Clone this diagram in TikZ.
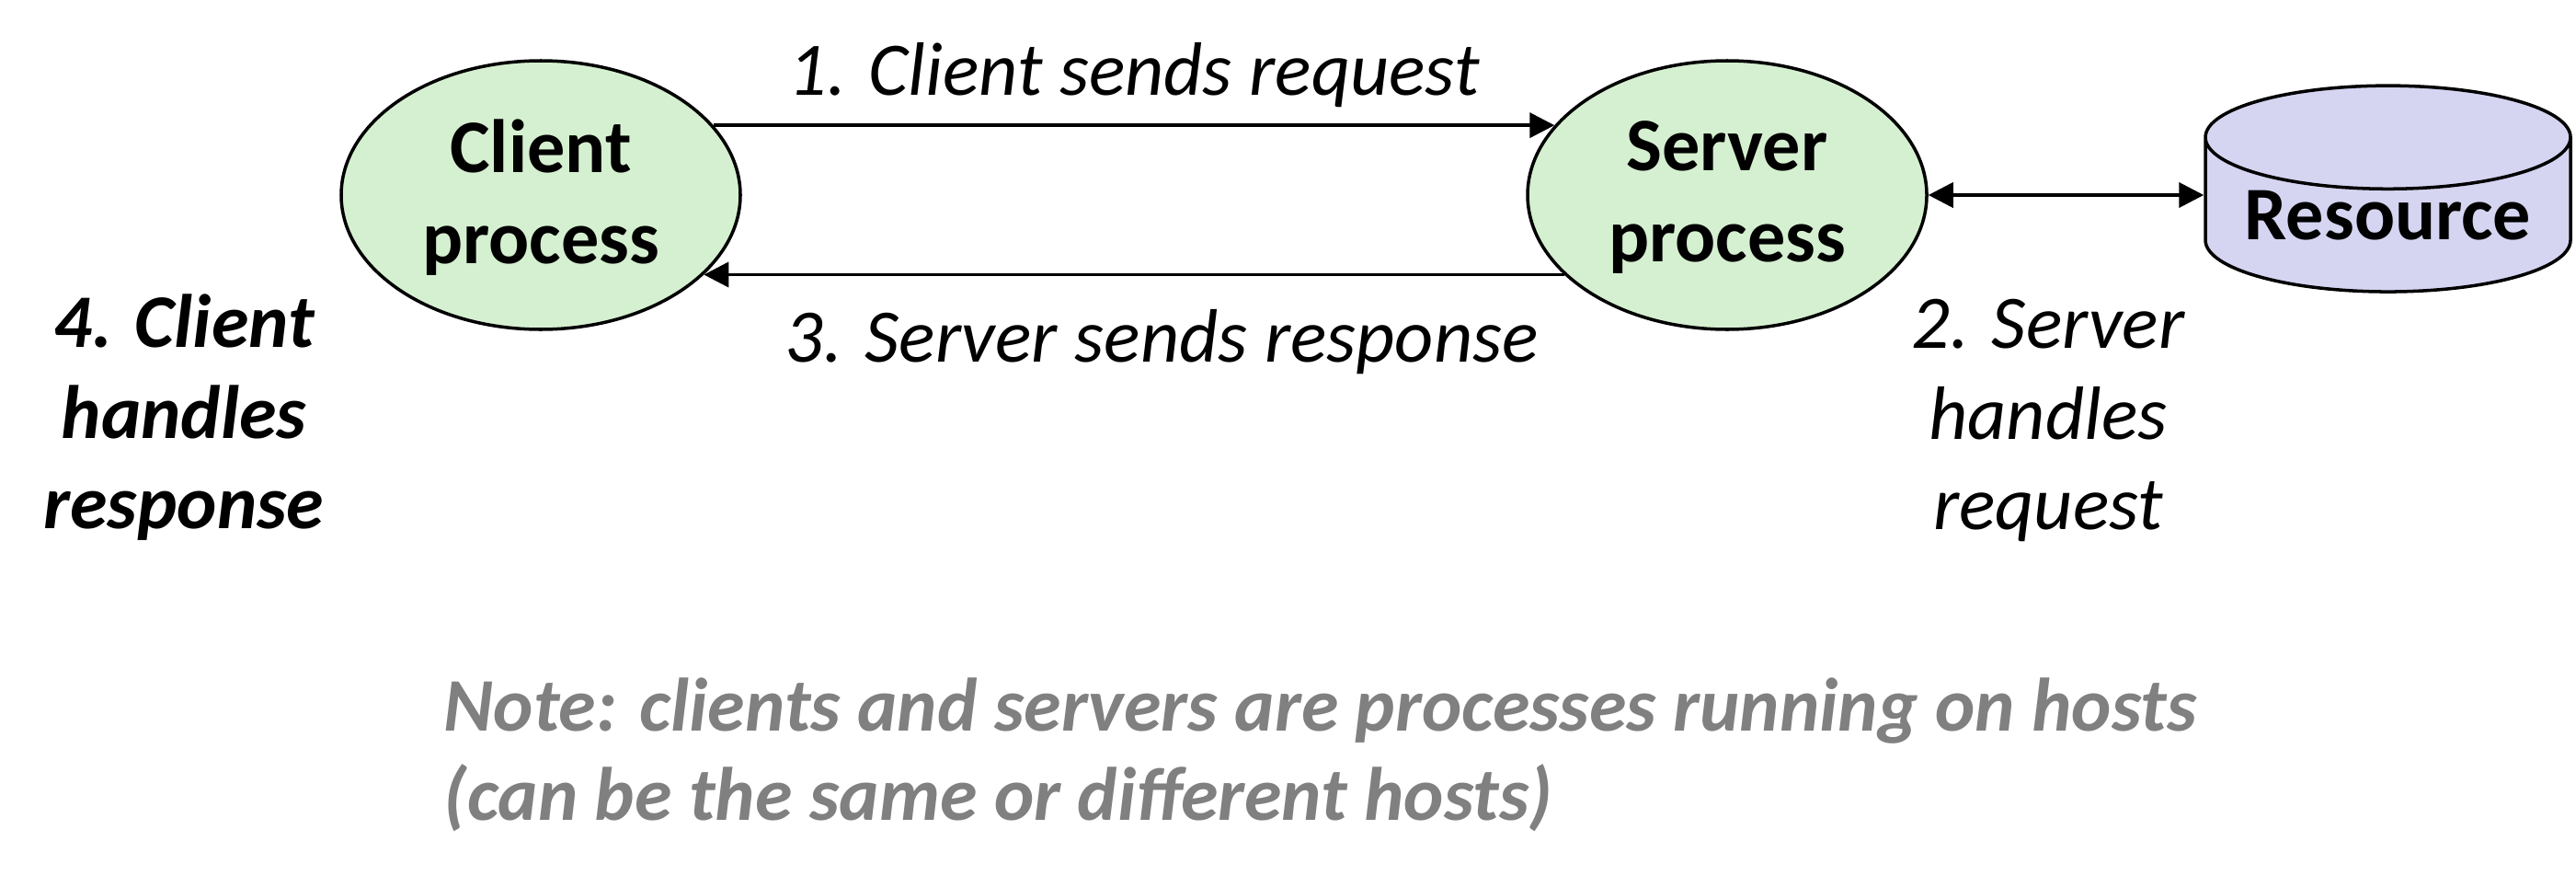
\documentclass[tikz,border=0pt]{standalone}
\usepackage{fontspec}
\setmainfont{Carlito}
\usepackage{xcolor}
\definecolor{cProc}{HTML}{D5F0D0}
\definecolor{cRes}{HTML}{D5D5F2}
\definecolor{cNote}{HTML}{808080}
\usetikzlibrary{positioning,arrows.meta,shapes.geometric,calc}
\tikzset{
  node-proc/.style={draw=black,line width=1pt,ellipse,fill=cProc,
    minimum width=43.4mm,minimum height=29.2mm,inner sep=0pt,text depth=0.8mm,
    align=center,font=\fontsize{23.4}{28}\selectfont\bfseries},
  node-res/.style={draw=black,line width=1pt,cylinder,shape border rotate=90,
    aspect=0.36,fill=cRes,minimum width=39.7mm,minimum height=20.5mm,
    inner sep=0pt,align=center,font=\fontsize{23.4}{28}\selectfont\bfseries},
  node-step/.style={align=center,font=\fontsize{23.4}{28}\selectfont\itshape},
  arrow/.style={-{Triangle[length=2.7mm,width=2.7mm]},line width=1.1pt,draw=black},
  arrow-both/.style={{Triangle[length=2.7mm,width=2.7mm]}-{Triangle[length=2.7mm,width=2.7mm]},
    line width=1.1pt,draw=black},
}
\begin{document}
\begin{tikzpicture}
  \useasboundingbox (0,0) rectangle (28.01,9.63);

  % Prozesse
  \node[node-proc] (client) at (5.88,7.51) {Client\\process};
  \node[node-proc] (server) at (18.78,7.51) {Server\\process};
  \node[node-res] (res) at (25.965,7.29) {Resource};

  % Anfrage / Antwort
  \draw[arrow] (client.22) -- node[node-step,above=0.6mm] (req) {1. Client sends request} (server.158);
  \draw[arrow] (server.206) -- node[node-step,below=2.4mm,xshift=3mm] (resp) {3. Server sends response} (client.334);
  \draw[arrow-both] (server.east) -- (server.east -| res.west);

  % Verarbeitung
  \node[node-step] (handle-req) at (22.27,5.06) {2. Server\\handles\\request};
  \node[node-step,font=\fontsize{23.4}{28}\selectfont\bfseries\itshape] (handle-resp) at (2.00,5.09)
    {4. Client\\handles\\response};

  % Hinweis
  \node[node-step,font=\fontsize{23.4}{27.5}\selectfont\bfseries\itshape,text=cNote,align=left,
    anchor=north west,inner sep=0pt] (note) at (4.82,2.27)
    {Note: clients and servers are processes running on hosts\\(can be the same or different hosts)};
\end{tikzpicture}
\end{document}
